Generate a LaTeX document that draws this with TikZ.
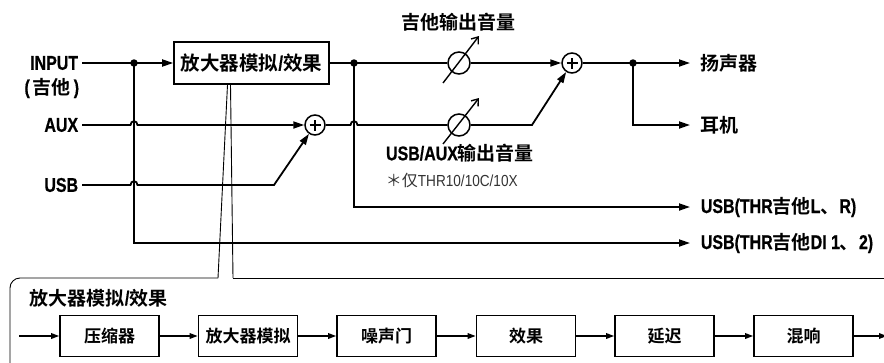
\documentclass[tikz,border=0pt]{standalone}
\usepackage{fontspec}
\usetikzlibrary{arrows.meta}
\newfontfamily\cjkf{Noto Sans CJK SC}[BoldFont={Noto Sans CJK SC Bold}]
\newfontfamily\latf{Liberation Sans}[FakeStretch=0.8,Scale=1.05,BoldFeatures={FakeBold=0.6}]
\newfontfamily\latr{Liberation Sans}[FakeStretch=0.85]
\newcommand\tlb[1]{{\latf\bfseries #1}}
\newcommand\tcb[1]{{\cjkf\bfseries #1}}
\newcommand\tlr[1]{{\latr #1}}
\newcommand\tcr[1]{{\cjkf #1}}
\begin{document}
\begin{tikzpicture}[x=1pt,y=-1pt,line width=1.8pt,
  >={Triangle[length=11pt,width=7pt]},
  lbl/.style={inner sep=0pt,font=\fontsize{19}{21}\selectfont},
  ampbox/.style={draw,line width=1.6pt,inner sep=0pt,minimum width=155pt,minimum height=42pt,font=\fontsize{19.5}{21}\selectfont},
  sbox/.style={draw,line width=1.6pt,inner sep=0pt,minimum width=99pt,minimum height=41pt,font=\fontsize{17}{19}\selectfont},
  jdot/.style={circle,fill,inner sep=0pt,minimum size=7.5pt},
  sumc/.style={circle,draw,line width=1.5pt,inner sep=0pt,minimum size=20pt},
  knob/.style={circle,draw,line width=1.5pt,inner sep=0pt,minimum size=22pt},
  thinl/.style={line width=0.9pt},
  sarr/.style={line width=1.6pt,-{Triangle[length=8pt,width=5.5pt]}},
  karr/.style={line width=1.4pt,-{Straight Barb[length=6pt,width=9pt,line width=1.4pt]}}]
\useasboundingbox (0,0) rectangle (884,362);

% left labels
\node[lbl,anchor=east] (input) at (79,63) {\tlb{INPUT}};
\node[lbl,anchor=east] (guitar) at (80,88) {\tlb{(}\kern3pt\tcb{吉他}\kern3pt\tlb{)}};
\node[lbl,anchor=east] (aux) at (79,125) {\tlb{AUX}};
\node[lbl,anchor=east] (usb) at (79,185) {\tlb{USB}};

% main blocks
\node[ampbox] (amp) at (251.5,63) {\tcb{放大器模拟}\tlb{/}\tcb{效果}};
\node[jdot] (d1) at (134,63) {};
\node[jdot] (d2) at (354,63) {};
\node[sumc] (s1) at (315,125) {};
\node[knob] (k1) at (459,63) {};
\node[knob] (k2) at (459,125) {};
\node[sumc] (s2) at (572,63) {};
\node[jdot] (d3) at (633,63) {};
\coordinate (ub) at (274,185);
\coordinate (kb) at (532,125);

% right labels
\node[lbl,anchor=west] (spk) at (700,63) {\tcb{扬声器}};
\node[lbl,anchor=west] (hp) at (700,125) {\tcb{耳机}};
\node[lbl,anchor=west] (usblr) at (700,207) {\tlb{USB(THR}\tcb{吉他}\tlb{L}\tcb{、}\tlb{R)}};
\node[lbl,anchor=west] (usbdi) at (700,243) {\tlb{USB(THR}\tcb{吉他}\tlb{DI 1}\tcb{、}\tlb{2)}};

% volume labels
\node[lbl] (gvol) at (458,22) {\tcb{吉他输出音量}};
\node[lbl] (uvol) at (460,153) {\tlb{USB/AUX}\tcb{输出音量}};
\node[anchor=west,inner sep=0pt,font=\fontsize{16}{18}\selectfont,text=black!80] (note) at (385,180) {\tcr{＊}\tcr{仅}\tlr{THR10/10C/10X}};

% plus signs
\foreach \s in {s1,s2}{
  \draw[line width=1.3pt] ([xshift=-5.5pt]\s.center) -- ([xshift=5.5pt]\s.center)
                          ([yshift=-5.5pt]\s.center) -- ([yshift=5.5pt]\s.center);
}
% knob arrows
\draw[karr] ([shift={(-16,20)}]k1.center) -- ([shift={(20,-27)}]k1.center);
\draw[karr] ([shift={(-16,19)}]k2.center) -- ([shift={(20,-27)}]k2.center);

% connectors
\draw[->] ([xshift=3pt]input.east) -- (amp.west);
\draw (amp.east) -- (d2.center) -- (k1.west);
\draw[->] (k1.east) -- (s2.west);
\draw[->] ([xshift=3pt]aux.east) -- ([xshift=-3.5pt]d1 |- s1)
   .. controls +(0,-5) and +(0,-5) .. ([xshift=3.5pt]d1 |- s1) -- (s1.west);
\draw[->] ([xshift=3pt]usb.east) -- ([xshift=-3.5pt]d1 |- ub)
   .. controls +(0,-5) and +(0,-5) .. ([xshift=3.5pt]d1 |- ub) -- (ub) -- (s1);
\draw (s1.east) -- ([xshift=-3.5pt]d2 |- s1)
   .. controls +(0,-5) and +(0,-5) .. ([xshift=3.5pt]d2 |- s1) -- (k2.west);
\draw[->] (k2.east) -- (kb) -- (s2);
\draw (s2.east) -- (d3.center);
\draw[->] (d3.center) -- ([xshift=-10pt]spk.west);
\draw[->] (d3.center) -- (d3 |- hp) -- ([xshift=-10pt]hp.west);
\draw[->] (d2.center) -- (d2 |- usblr) -- ([xshift=-10pt]usblr.west);
\draw[->] (d1.center) -- (d1 |- usbdi) -- ([xshift=-10pt]usbdi.west);

% callout and detail frame
\coordinate (cl) at (218,278);
\coordinate (cr) at (233,278);
\draw[thinl] ([xshift=-24pt]amp.south) -- (cl);
\draw[thinl] ([xshift=-21pt]amp.south) -- (cr);
\draw[thinl,rounded corners=10pt] (cl) -- (10,278) -- (10,375);
\draw[thinl] (cr) -- (890,278);

\node[lbl,anchor=west] (title) at (29,298) {\tcb{放大器模拟}\tlb{/}\tcb{效果}};

\node[sbox] (b1) at (109.5,336) {\tcb{压缩器}};
\node[sbox] (b2) at (248,336) {\tcb{放大器模拟}};
\node[sbox] (b3) at (386.5,336) {\tcb{噪声门}};
\node[sbox] (b4) at (526,336) {\tcb{效果}};
\node[sbox] (b5) at (664.5,336) {\tcb{延迟}};
\node[sbox] (b6) at (803.5,336) {\tcb{混响}};
\coordinate (bin) at (19,336);
\coordinate (bout) at (887,336);
\draw[sarr] (bin) -- (b1);
\draw[sarr] (b1) -- (b2);
\draw[sarr] (b2) -- (b3);
\draw[sarr] (b3) -- (b4);
\draw[sarr] (b4) -- (b5);
\draw[sarr] (b5) -- (b6);
\draw[sarr] (b6) -- (bout);
\end{tikzpicture}
\end{document}
